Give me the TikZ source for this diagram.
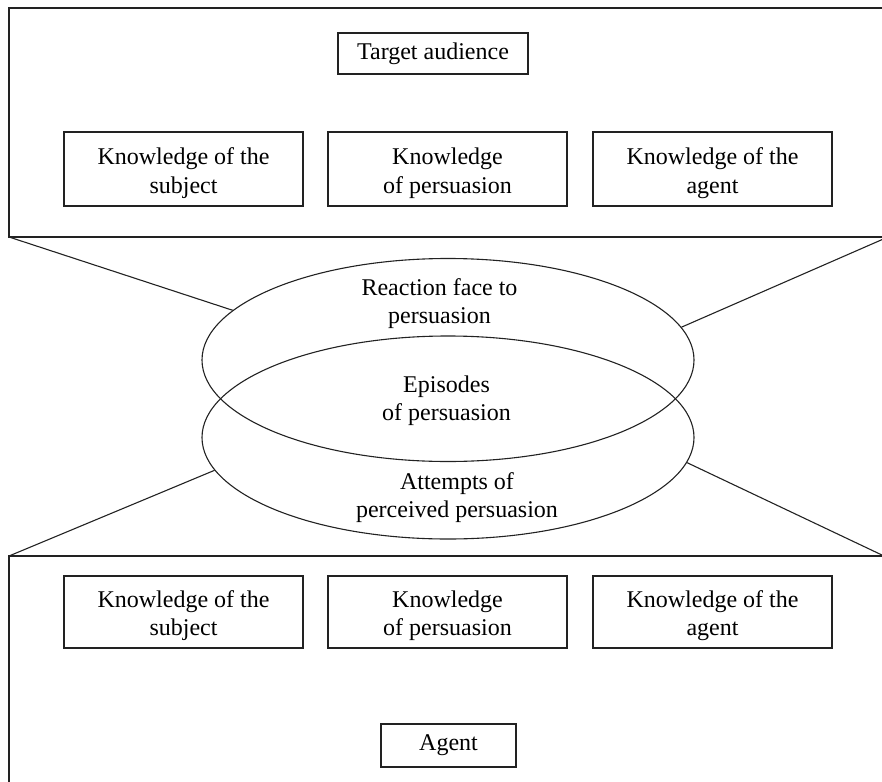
\documentclass[tikz,border=0pt]{standalone}
\usepackage{fontspec}
\setmainfont{Liberation Serif}
\usetikzlibrary{shapes.geometric}
\definecolor{ink}{HTML}{222222}
\newcommand\diagfont{\fontsize{24bp}{28.5bp}\selectfont}

\begin{document}
\begin{tikzpicture}[x=1bp,y=-1bp,
  frame/.style={draw=ink, line width=1.6bp},
  link/.style={draw=ink, line width=1.1bp},
  ring/.style={ellipse, draw=ink, line width=1.1bp, minimum width=492bp,
    minimum height=203bp, inner sep=0pt},
  kbox/.style={draw=ink, line width=1.3bp, minimum width=239bp,
    minimum height=74bp, inner sep=0pt},
  tbox/.style={draw=ink, line width=1.3bp, inner sep=0pt, align=center,
    font=\diagfont},
  label/.style={inner sep=0pt, align=center, font=\diagfont}]

\useasboundingbox (0,0) rectangle (882,782);
\begin{scope}
\clip (0,0) rectangle (882,782);

% corners of the two open frames
\coordinate (audTR) at (888,8);
\coordinate (audTL) at (9,8);
\coordinate (audBL) at (9,237);
\coordinate (audBR) at (888,237);
\coordinate (agTR) at (884,556);
\coordinate (agTL) at (9,556);
\coordinate (agBL) at (9,790);

\draw[frame] (audTR) -- (audTL) -- (audBL) -- (audBR);
\draw[frame] (agTR) -- (agTL) -- (agBL);

% upper frame: target audience
\node[tbox, minimum width=190bp, minimum height=41bp] (target) at (433,53.5) {Target audience};
\node[kbox] (tsub) at (183.5,169) {};
\node[kbox] (tper) at (447.5,169) {};
\node[kbox] (tage) at (712.5,169) {};
\node[label] (tsubT) at (183.5,173) {Knowledge of the\\subject};
\node[label] (tperT) at (447.5,173) {Knowledge\\of persuasion};
\node[label] (tageT) at (712.5,173) {Knowledge of the\\agent};

% lower frame: agent
\node[kbox, minimum height=72bp] (bsub) at (183.5,612) {};
\node[kbox, minimum height=72bp] (bper) at (447.5,612) {};
\node[kbox, minimum height=72bp] (bage) at (712.5,612) {};
\node[label] (bsubT) at (183.5,615.5) {Knowledge of the\\subject};
\node[label] (bperT) at (447.5,615.5) {Knowledge\\of persuasion};
\node[label] (bageT) at (712.5,615.5) {Knowledge of the\\agent};
\node[tbox, minimum width=135bp, minimum height=43bp] (agent) at (448.5,745.5) {Agent};

% the two overlapping rings
\node[ring] (reaction) at (448,360) {};
\node[ring] (attempts) at (448,437.5) {};

\node[label] (lreact) at (439.5,303.5) {Reaction face to\\persuasion};
\node[label] (lepis) at (446.5,400.5) {Episodes\\of persuasion};
\node[label] (latt) at (457,497.5) {Attempts of\\perceived persuasion};

% funnel lines from the frames to the rings
\draw[link] (audBL) -- (reaction.167.8);
\draw[link] (audBR) -- (reaction.8);
\draw[link] (agTL) -- (attempts.188.2);
\draw[link] (agTR) -- (attempts.354);
\end{scope}
\end{tikzpicture}
\end{document}
